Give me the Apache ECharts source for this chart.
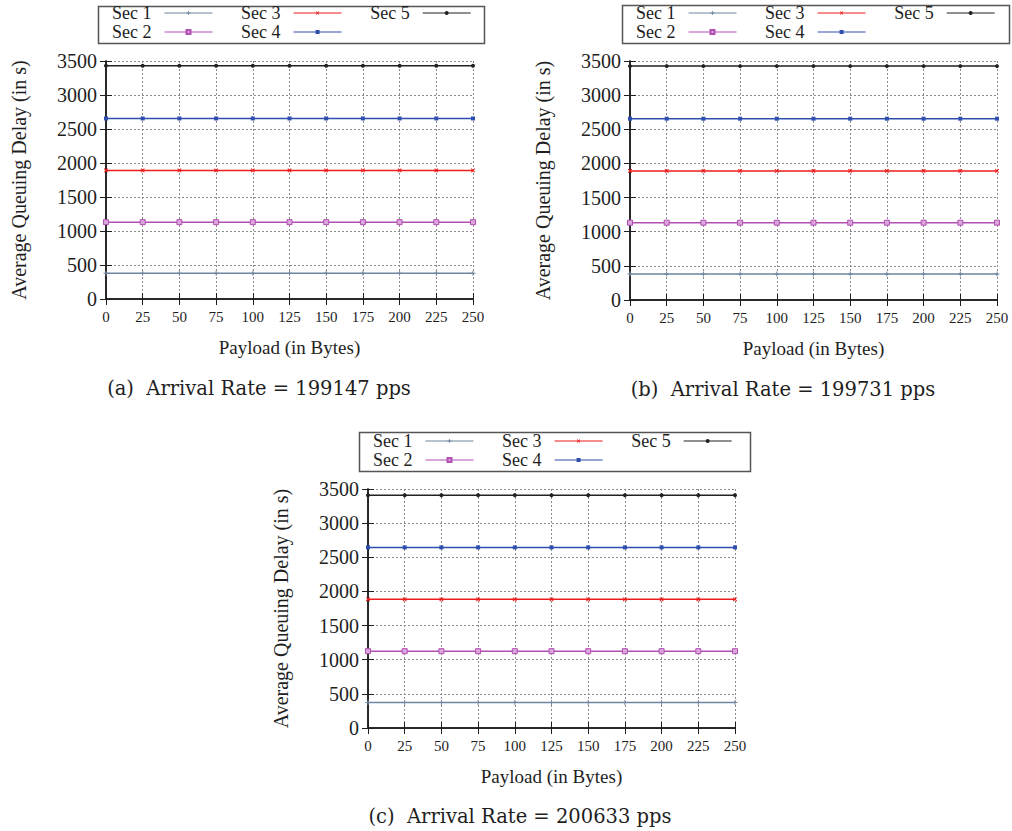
<!DOCTYPE html>
<html>
<head>
<meta charset="utf-8">
<script src="https://cdn.jsdelivr.net/npm/echarts@6/dist/echarts.min.js"></script>
<style>
  html, body { margin: 0; padding: 0; background: #ffffff; }
  #chart { width: 1012px; height: 831px; }
</style>
</head>
<body>
<div id="chart"></div>
<script>
// Payload sizes on the x axis (bytes)
const payload = [0, 25, 50, 75, 100, 125, 150, 175, 200, 225, 250];
const sectorNames = ['Sec 1', 'Sec 2', 'Sec 3', 'Sec 4', 'Sec 5'];
const legendRowTop = ['Sec 1', 'Sec 3', 'Sec 5'];
const legendRowBottom = ['Sec 2', 'Sec 4'];

// Average queuing delay (s) per sector, arrival rate 199147 pps
const delayA_sec1 = [380, 380, 380, 380, 380, 380, 380, 380, 380, 380, 380];
const delayA_sec2 = [1130, 1130, 1130, 1130, 1130, 1130, 1130, 1130, 1130, 1130, 1130];
const delayA_sec3 = [1890, 1890, 1890, 1890, 1890, 1890, 1890, 1890, 1890, 1890, 1890];
const delayA_sec4 = [2655, 2655, 2655, 2655, 2655, 2655, 2655, 2655, 2655, 2655, 2655];
const delayA_sec5 = [3430, 3430, 3430, 3430, 3430, 3430, 3430, 3430, 3430, 3430, 3430];

// Arrival rate 199731 pps
const delayB_sec1 = [382, 382, 382, 382, 382, 382, 382, 382, 382, 382, 382];
const delayB_sec2 = [1132, 1132, 1132, 1132, 1132, 1132, 1132, 1132, 1132, 1132, 1132];
const delayB_sec3 = [1890, 1890, 1890, 1890, 1890, 1890, 1890, 1890, 1890, 1890, 1890];
const delayB_sec4 = [2655, 2655, 2655, 2655, 2655, 2655, 2655, 2655, 2655, 2655, 2655];
const delayB_sec5 = [3425, 3425, 3425, 3425, 3425, 3425, 3425, 3425, 3425, 3425, 3425];

// Arrival rate 200633 pps
const delayC_sec1 = [375, 375, 375, 375, 375, 375, 375, 375, 375, 375, 375];
const delayC_sec2 = [1125, 1125, 1125, 1125, 1125, 1125, 1125, 1125, 1125, 1125, 1125];
const delayC_sec3 = [1885, 1885, 1885, 1885, 1885, 1885, 1885, 1885, 1885, 1885, 1885];
const delayC_sec4 = [2645, 2645, 2645, 2645, 2645, 2645, 2645, 2645, 2645, 2645, 2645];
const delayC_sec5 = [3410, 3410, 3410, 3410, 3410, 3410, 3410, 3410, 3410, 3410, 3410];

const captionA = '(a)  Arrival Rate = 199147 pps';
const captionB = '(b)  Arrival Rate = 199731 pps';
const captionC = '(c)  Arrival Rate = 200633 pps';

const xTitle = 'Payload (in Bytes)';
const yTitle = 'Average Queuing Delay (in s)';

const X_MIN = 0, X_MAX = 250, X_STEP = 25;
const Y_MIN = 0, Y_MAX = 3500, Y_STEP = 500;

// ---- styling & layout ----
const SERIF = '"Liberation Serif", "Times New Roman", serif';
const CAPTION_FONT = '"DejaVu Serif", serif';
const INK = '#1e1e1e';
const PLUS = 'path://M2,0H3V2H5V3H3V5H2V3H0V2H2Z';

const sectorStyles = [
  { color: '#6f87a0', symbol: PLUS, size: 5, rotate: 0 },
  { color: '#b24fb2', symbol: 'rect', size: 5, fill: '#dba6db' },
  { color: '#ee1c1c', symbol: PLUS, size: 5, rotate: 45 },
  { color: '#2f4fae', symbol: 'rect', size: 4 },
  { color: '#222222', symbol: 'circle', size: 4 }
];

const panels = [
  { data: [delayA_sec1, delayA_sec2, delayA_sec3, delayA_sec4, delayA_sec5], caption: captionA,
    grid: { left: 106, top: 61, width: 367, height: 238 },
    legendX: 112, legendRows: [13, 32], box: [96, 4, 386, 37], captionPos: [259, 388] },
  { data: [delayB_sec1, delayB_sec2, delayB_sec3, delayB_sec4, delayB_sec5], caption: captionB,
    grid: { left: 630, top: 61, width: 367, height: 239 },
    legendX: 636, legendRows: [13, 32], box: [620, 3, 387, 38], captionPos: [783, 389] },
  { data: [delayC_sec1, delayC_sec2, delayC_sec3, delayC_sec4, delayC_sec5], caption: captionC,
    grid: { left: 368, top: 489, width: 367, height: 239 },
    legendX: 373, legendRows: [441, 460], box: [357, 430, 391, 39], captionPos: [520, 816] }
];

const grids = [], xAxes = [], yAxes = [], series = [], legends = [], graphics = [];

panels.forEach((p, pi) => {
  grids.push(Object.assign({ containLabel: false }, p.grid));

  const tickInside = { show: true, inside: true, length: 6, lineStyle: { color: INK, width: 1 } };
  const frameLine = { show: true, lineStyle: { color: INK, width: 1.5 } };
  const gridDots = { show: true, lineStyle: { color: '#8a8a8a', width: 1, type: [2, 2] } };

  xAxes.push({
    gridIndex: pi, type: 'value', position: 'bottom',
    min: X_MIN, max: X_MAX, interval: X_STEP,
    axisLine: frameLine, axisTick: tickInside, splitLine: gridDots,
    axisLabel: { margin: 10, fontFamily: SERIF, fontSize: 15, color: INK,
                 formatter: v => String(v) },
    name: xTitle, nameLocation: 'middle', nameGap: 39,
    nameTextStyle: { fontFamily: SERIF, fontSize: 19, color: INK }
  });
  xAxes.push({
    gridIndex: pi, type: 'value', position: 'top',
    min: X_MIN, max: X_MAX, interval: X_STEP,
    axisLine: frameLine, axisTick: tickInside, splitLine: { show: false },
    axisLabel: { show: false }
  });
  yAxes.push({
    gridIndex: pi, type: 'value', position: 'left',
    min: Y_MIN, max: Y_MAX, interval: Y_STEP,
    axisLine: frameLine, axisTick: tickInside, splitLine: gridDots,
    axisLabel: { margin: 9, fontFamily: SERIF, fontSize: 20, color: INK,
                 formatter: v => String(v) },
    name: yTitle, nameLocation: 'middle', nameGap: 77,
    nameTextStyle: { fontFamily: SERIF, fontSize: 20, color: INK }
  });
  yAxes.push({
    gridIndex: pi, type: 'value', position: 'right',
    min: Y_MIN, max: Y_MAX, interval: Y_STEP,
    axisLine: frameLine, axisTick: tickInside, splitLine: { show: false },
    axisLabel: { show: false }
  });

  sectorNames.forEach((name, si) => {
    const st = sectorStyles[si];
    series.push({
      type: 'line', name: name,
      xAxisIndex: pi * 2, yAxisIndex: pi * 2,
      data: payload.map((x, i) => [x, p.data[si][i]]),
      symbol: st.symbol, symbolSize: st.size, symbolRotate: st.rotate || 0,
      showAllSymbol: true, animation: false, silent: true,
      lineStyle: { color: st.color, width: 1.5 },
      itemStyle: st.fill
        ? { color: st.fill, borderColor: st.color, borderWidth: 1 }
        : { color: st.color }
    });
  });

  [legendRowTop, legendRowBottom].forEach((row, ri) => {
    legends.push({
      data: row, orient: 'horizontal', align: 'right',
      left: p.legendX, top: p.legendRows[ri] - 9,
      padding: 0, itemGap: 28, itemWidth: 48, itemHeight: 5,
      selectedMode: false,
      lineStyle: { width: 1.2 },
      textStyle: { fontFamily: SERIF, fontSize: 18, color: INK, padding: [0, 8, 0, 0] }
    });
  });

  graphics.push({
    type: 'rect', left: p.box[0], top: p.box[1], silent: true,
    shape: { width: p.box[2], height: p.box[3] },
    style: { fill: 'none', stroke: '#555555', lineWidth: 1.5 }
  });
  graphics.push({
    type: 'text', x: p.captionPos[0], y: p.captionPos[1], silent: true,
    style: { text: p.caption, fontFamily: CAPTION_FONT, fontSize: 19.5, fill: INK,
             textAlign: 'center', textVerticalAlign: 'middle' }
  });
});

const chart = echarts.init(document.getElementById('chart'), null, { renderer: 'svg' });
chart.setOption({
  backgroundColor: '#ffffff',
  animation: false,
  grid: grids,
  xAxis: xAxes,
  yAxis: yAxes,
  legend: legends,
  series: series,
  graphic: graphics
});
</script>
</body>
</html>
